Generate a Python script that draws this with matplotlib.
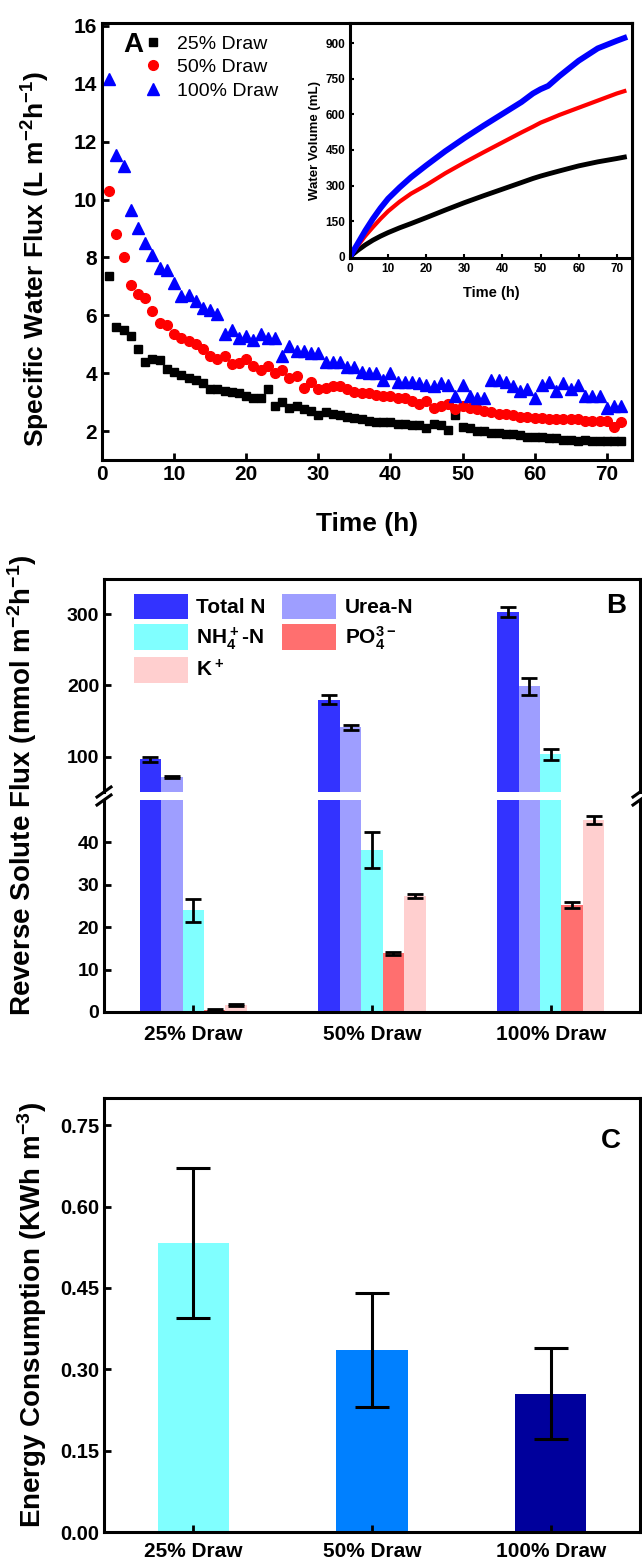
import numpy as np
import matplotlib
matplotlib.use("Agg")
import matplotlib.pyplot as plt

plt.rcParams['font.family'] = ['Liberation Sans', 'DejaVu Sans']
plt.rcParams['font.weight'] = 'bold'
plt.rcParams['axes.labelweight'] = 'bold'
plt.rcParams['mathtext.fontset'] = 'custom'
plt.rcParams['mathtext.rm'] = 'Liberation Sans:bold'
plt.rcParams['mathtext.bf'] = 'Liberation Sans:bold'
plt.rcParams['mathtext.default'] = 'bf'

# ---- panel A: specific water flux, one point per hour
hours = np.arange(1, 73)
flux_25 = [7.35, 5.6, 5.5, 5.3, 4.85, 4.4, 4.5, 4.45, 4.15, 4.05, 3.95, 3.85, 3.75, 3.65, 3.45, 3.45,
           3.4, 3.35, 3.3, 3.2, 3.15, 3.15, 3.45, 2.85, 3.0, 2.8, 2.85, 2.75, 2.7, 2.55, 2.65, 2.6,
           2.55, 2.5, 2.45, 2.4, 2.35, 2.3, 2.3, 2.3, 2.25, 2.25, 2.2, 2.2, 2.1, 2.25, 2.2, 2.05,
           2.55, 2.15, 2.1, 2.0, 2.0, 1.95, 1.95, 1.9, 1.9, 1.85, 1.8, 1.8, 1.8, 1.75, 1.75, 1.7,
           1.7, 1.65, 1.7, 1.65, 1.65, 1.65, 1.65, 1.65]
flux_50 = [10.3, 8.8, 8.0, 7.05, 6.75, 6.6, 6.15, 5.75, 5.65, 5.35, 5.2, 5.1, 5.0, 4.85, 4.6, 4.5,
           4.6, 4.3, 4.35, 4.5, 4.25, 4.1, 4.25, 4.0, 4.1, 3.85, 3.9, 3.5, 3.7, 3.45, 3.5, 3.55,
           3.55, 3.45, 3.35, 3.3, 3.3, 3.25, 3.2, 3.2, 3.15, 3.15, 3.05, 2.95, 3.05, 2.8, 2.85, 2.95,
           2.75, 2.85, 2.8, 2.75, 2.7, 2.65, 2.6, 2.6, 2.55, 2.5, 2.5, 2.45, 2.45, 2.4, 2.4, 2.4,
           2.4, 2.4, 2.35, 2.35, 2.35, 2.35, 2.15, 2.3]
flux_100 = [14.15, 11.55, 11.15, 9.65, 9.0, 8.5, 8.1, 7.65, 7.55, 7.1, 6.65, 6.7, 6.5, 6.25, 6.2, 6.05,
            5.35, 5.5, 5.2, 5.3, 5.15, 5.35, 5.2, 5.2, 4.6, 4.95, 4.75, 4.75, 4.7, 4.7, 4.4, 4.4,
            4.4, 4.2, 4.2, 4.05, 4.0, 4.0, 3.75, 4.0, 3.7, 3.7, 3.7, 3.65, 3.6, 3.55, 3.65, 3.6,
            3.2, 3.6, 3.2, 3.15, 3.15, 3.75, 3.75, 3.7, 3.55, 3.4, 3.45, 3.15, 3.6, 3.7, 3.4, 3.65,
            3.45, 3.6, 3.2, 3.2, 3.2, 2.8, 2.85, 2.85]

# inset: cumulative water volume (mL)
vol_time = [0, 1, 2, 4, 6, 8, 10, 13, 16, 20, 25, 30, 35, 40, 45, 48, 50, 52, 55, 60, 65, 70, 72]
vol_25 = [0, 14, 27, 50, 70, 87, 102, 122, 140, 165, 197, 228, 257, 285, 313, 330, 340, 349, 362, 383, 400, 414, 420]
vol_50 = [0, 24, 46, 88, 125, 160, 192, 232, 266, 302, 352, 397, 440, 482, 524, 548, 565, 578, 598, 628, 658, 688, 698]
vol_100 = [0, 28, 55, 110, 160, 205, 245, 292, 335, 385, 445, 500, 552, 602, 652, 688, 706, 720, 762, 826, 878, 910, 922]

# ---- panel B: reverse solute flux
draws = ['25% Draw', '50% Draw', '100% Draw']
solutes = ['Total N', 'Urea-N', r'NH$_4^+$-N', r'PO$_4^{3-}$', r'K$^+$']
solute_flux = [[96, 180, 303],      # Total N
               [71, 141, 199],      # Urea-N
               [24, 38.2, 103],     # NH4+-N
               [0.5, 13.8, 25.2],   # PO4 3-
               [1.6, 27.3, 45.3]]   # K+
solute_err = [[4, 6, 7],
              [1, 3, 12],
              [2.7, 4.3, 8],
              [0.15, 0.25, 0.7],
              [0.3, 0.5, 0.9]]
solute_colors = ['#3333FF', '#9E9EFF', '#80FFFF', '#FF6F6F', '#FFCFCF']

# ---- panel C: energy consumption
energy = [0.533, 0.336, 0.255]
energy_err = [0.138, 0.105, 0.084]
energy_colors = ['#80FFFF', '#0080FF', '#00009C']

W, H = 642, 1563
fig = plt.figure(figsize=(W / 100, H / 100), dpi=100)


def px_axes(left, top, right, bottom):
    return fig.add_axes([left / W, 1 - bottom / H, (right - left) / W, (bottom - top) / H])


def style(ax, size):
    for s in ax.spines.values():
        s.set_linewidth(2.2)
    ax.tick_params(direction='in', width=2, length=5, labelsize=size)


# ---------------- A
axA = px_axes(102, 23, 632, 460)
style(axA, 15)
axA.plot(hours, flux_25, 's', color='black', ms=5.8, label='25% Draw')
axA.plot(hours, flux_50, 'o', color='#FF0000', ms=7, label='50% Draw')
axA.plot(hours, flux_100, '^', color='#0000FF', ms=8, label='100% Draw')
axA.set_xlim(0, 73.5)
axA.set_ylim(1, 16.1)
axA.set_xticks(range(0, 71, 10))
axA.set_yticks(range(2, 17, 2))
axA.set_xlabel('Time (h)', fontsize=19, labelpad=20)
axA.set_ylabel(r'Specific Water Flux (L m$^{-2}$h$^{-1}$)', fontsize=19)
axA.yaxis.set_label_coords(-0.095, 0.46)
axA.text(0.04, 0.95, 'A', transform=axA.transAxes, fontsize=20, va='center', ha='left')
legA = axA.legend(loc='upper left', bbox_to_anchor=(0.06, 0.99), frameon=False, fontsize=14,
                  handletextpad=0.6, labelspacing=0.3, borderaxespad=0, handlelength=1.2)
for t in legA.get_texts():
    t.set_fontweight('normal')

ins = px_axes(350, 23, 632, 258)
style(ins, 8.5)
ins.tick_params(length=3, width=1.5)
ins.plot(vol_time, vol_25, color='black', lw=3.5)
ins.plot(vol_time, vol_50, color='#FF0000', lw=3)
ins.plot(vol_time, vol_100, color='#0000FF', lw=4.2)
ins.set_xlim(0, 74)
ins.set_ylim(-5, 985)
ins.set_xticks(range(0, 71, 10))
ins.set_yticks(range(0, 901, 150))
ins.set_xlabel('Time (h)', fontsize=10.5, labelpad=8)
ins.set_ylabel('Water Volume (mL)', fontsize=9.5, labelpad=3)

# ---------------- B (broken axis)
axBu = px_axes(104, 579, 640, 792)
axBl = px_axes(104, 800, 640, 1012)
x = np.arange(1, 4)
bw = 0.12
for i, name in enumerate(solutes):
    pos = x + (i - 2) * bw
    for ax in (axBu, axBl):
        ax.bar(pos, solute_flux[i], bw, color=solute_colors[i], label=name)
        ax.errorbar(pos, solute_flux[i], yerr=solute_err[i], fmt='none', ecolor='black',
                    elinewidth=2, capsize=6, capthick=2)
for ax in (axBu, axBl):
    style(ax, 14)
    ax.set_xlim(0.5, 3.5)
axBu.set_ylim(50, 350)
axBl.set_ylim(0, 50)
axBu.set_yticks([100, 200, 300])
axBl.set_yticks([0, 10, 20, 30, 40])
axBu.spines['bottom'].set_visible(False)
axBl.spines['top'].set_visible(False)
axBu.set_xticks([])
axBl.set_xticks(x)
axBl.set_xticklabels(draws, fontsize=15)
axBl.tick_params(axis='x', pad=9)
# break marks on both spines
for xp in (104, 640):
    for yc in (792, 800):
        fig.add_artist(plt.Line2D([(xp - 7) / W, (xp + 7) / W],
                                  [1 - (yc + 5) / H, 1 - (yc - 5) / H], color='black', lw=2.2))
hb, lb = axBu.get_legend_handles_labels()
order = [0, 2, 4, 1, 3]
legB = axBu.legend([hb[k] for k in order], [lb[k] for k in order], ncol=2, loc='upper left',
                   bbox_to_anchor=(0.04, 0.97), frameon=False, fontsize=15, handlelength=2.6,
                   handleheight=1.5, handletextpad=0.4, columnspacing=0.8, labelspacing=0.25,
                   borderaxespad=0)
axBu.text(0.955, 0.875, 'B', transform=axBu.transAxes, fontsize=20, ha='center', va='center')
fig.text(22 / W, 1 - 785 / H, r'Reverse Solute Flux (mmol m$^{-2}$h$^{-1}$)', rotation=90,
         fontsize=20, ha='center', va='center')

# ---------------- C
axC = px_axes(104, 1098, 640, 1532)
style(axC, 14.5)
axC.bar(x, energy, 0.4, color=energy_colors)
axC.errorbar(x, energy, yerr=energy_err, fmt='none', ecolor='black', elinewidth=2.2,
             capsize=12, capthick=2.2)
axC.set_xlim(0.5, 3.5)
axC.set_ylim(0, 0.8)
axC.set_yticks([0, 0.15, 0.30, 0.45, 0.60, 0.75])
axC.set_yticklabels(['0.00', '0.15', '0.30', '0.45', '0.60', '0.75'])
axC.set_xticks(x)
axC.set_xticklabels(draws, fontsize=15)
axC.tick_params(axis='x', pad=7)
axC.text(0.945, 0.9, 'C', transform=axC.transAxes, fontsize=20, ha='center', va='center')
axC.set_ylabel(r'Energy Consumption (KWh m$^{-3}$)', fontsize=20, labelpad=8)

fig.savefig('out.png', dpi=100)
